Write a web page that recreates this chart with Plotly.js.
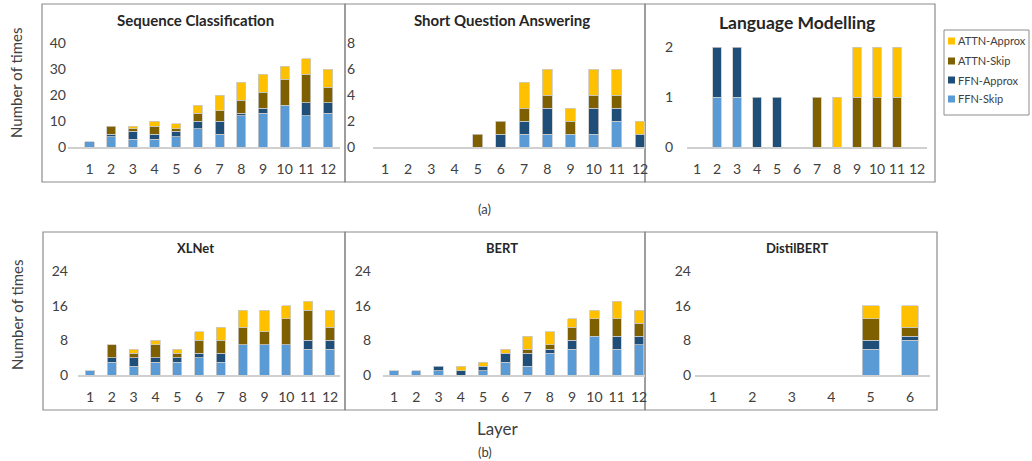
<!DOCTYPE html>
<html>
<head>
<meta charset="utf-8">
<script src="https://cdn.plot.ly/plotly-3.0.1.min.js"></script>
<style>html,body{margin:0;padding:0;background:#fff;}#chart{width:1032px;height:461px;}</style>
</head>
<body>
<div id="chart"></div>
<script>
// ---- Data ----
const layers12 = [1,2,3,4,5,6,7,8,9,10,11,12];
const layers6 = [1,2,3,4,5,6];
const seriesNames = ['FFN-Skip','FFN-Approx','ATTN-Skip','ATTN-Approx'];
const seriesColors = ['#5B9BD5','#1F4E79','#7F6000','#FFC000'];

// Sequence Classification
const seqFFNSkip    = [2,4,3,3,4,7,5,12,13,16,12,13];
const seqFFNApprox  = [0,1,3,2,2,3,5,1,2,0,5,4];
const seqATTNSkip   = [0,3,1,3,1,3,4,5,6,10,11,6];
const seqATTNApprox = [0,0,1,2,2,3,6,7,7,5,6,7];
// Short Question Answering
const sqaFFNSkip    = [0,0,0,0,0,0,1,1,1,1,2,0];
const sqaFFNApprox  = [0,0,0,0,0,1,1,2,0,2,1,1];
const sqaATTNSkip   = [0,0,0,0,1,1,1,1,1,1,1,0];
const sqaATTNApprox = [0,0,0,0,0,0,2,2,1,2,2,1];
// Language Modelling
const lmFFNSkip     = [0,1,1,0,0,0,0,0,0,0,0,0];
const lmFFNApprox   = [0,1,1,1,1,0,0,0,0,0,0,0];
const lmATTNSkip    = [0,0,0,0,0,0,1,0,1,1,1,0];
const lmATTNApprox  = [0,0,0,0,0,0,0,1,1,1,1,0];
// XLNet
const xlFFNSkip     = [1,3,2,3,3,4,3,7,7,7,6,6];
const xlFFNApprox   = [0,1,2,1,1,1,2,0,0,0,2,2];
const xlATTNSkip    = [0,3,1,3,1,3,3,4,3,6,7,3];
const xlATTNApprox  = [0,0,1,1,1,2,3,4,5,3,2,4];
// BERT
const bertFFNSkip    = [1,1,1,0,1,3,2,5,6,9,6,7];
const bertFFNApprox  = [0,0,1,1,1,2,3,1,2,0,3,2];
const bertATTNSkip   = [0,0,0,0,0,0,1,1,3,4,4,3];
const bertATTNApprox = [0,0,0,1,1,1,3,3,2,2,4,3];
// DistilBERT
const dbFFNSkip     = [0,0,0,0,6,8];
const dbFFNApprox   = [0,0,0,0,2,1];
const dbATTNSkip    = [0,0,0,0,5,2];
const dbATTNApprox  = [0,0,0,0,3,5];

const panelTitles = ['Sequence Classification','Short Question Answering','Language Modelling','XLNet','BERT','DistilBERT'];

// ---- Layout geometry (pixels) ----
const W = 1032, H = 461;
const panels = [
  {title: panelTitles[0], xs: layers12, data:[seqFFNSkip,seqFFNApprox,seqATTNSkip,seqATTNApprox],
   x0:68, x1:340, c1:89.5, cN:328, yZero:147, yTop:43, ymax:40, dtick:10, labelPos:66, tsize:15, tx:195, ty:20, bw:0.42},
  {title: panelTitles[1], xs: layers12, data:[sqaFFNSkip,sqaFFNApprox,sqaATTNSkip,sqaATTNApprox],
   x0:373, x1:645, c1:385, cN:640, yZero:147, yTop:43, ymax:8, dtick:2, labelPos:355, tsize:15, tx:502, ty:20, bw:0.43},
  {title: panelTitles[2], xs: layers12, data:[lmFFNSkip,lmFFNApprox,lmATTNSkip,lmATTNApprox],
   x0:687, x1:927, c1:697, cN:917, yZero:147, yTop:47, ymax:2, dtick:1, labelPos:673, tsize:17.5, tx:797, ty:22, bw:0.42},
  {title: panelTitles[3], xs: layers12, data:[xlFFNSkip,xlFFNApprox,xlATTNSkip,xlATTNApprox],
   x0:78, x1:340, c1:90, cN:330, yZero:375, yTop:271, ymax:24, dtick:8, labelPos:68, tsize:13, tx:195, ty:248, bw:0.42},
  {title: panelTitles[4], xs: layers12, data:[bertFFNSkip,bertFFNApprox,bertATTNSkip,bertATTNApprox],
   x0:383, x1:645, c1:394, cN:639, yZero:375, yTop:271, ymax:24, dtick:8, labelPos:371, tsize:13, tx:502, ty:248, bw:0.42},
  {title: panelTitles[5], xs: layers6, data:[dbFFNSkip,dbFFNApprox,dbATTNSkip,dbATTNApprox],
   x0:695, x1:930, c1:713, cN:910, yZero:375, yTop:271, ymax:24, dtick:8, labelPos:691, tsize:13, tx:797, ty:248, bw:0.43}
];
const boxes = [
  [42,4,345,182],[345,4,645,182],[645,4,935,182],
  [43,232,345,410],[345,232,645,410],[645,232,937,410]
];
// legend box geometry (pixels)
const legendBox = [944, 30, 1029, 115];
const legendRowY = [41, 61, 80, 99]; // top to bottom: ATTN-Approx, ATTN-Skip, FFN-Approx, FFN-Skip

const FONT = 'Lato, "Open Sans", sans-serif';
const traces = [];
const layout = {
  width: W, height: H,
  margin: {l:0, r:0, t:0, b:0},
  paper_bgcolor: '#ffffff', plot_bgcolor: 'rgba(0,0,0,0)',
  barmode: 'stack',
  font: {family: FONT, color: '#404040'},
  showlegend: false,
  shapes: [], annotations: []
};

panels.forEach((p, i) => {
  const n = i + 1;
  const xa = 'x' + (n === 1 ? '' : n), ya = 'y' + (n === 1 ? '' : n);
  const N = p.xs.length;
  const s = (p.cN - p.c1) / (N - 1);
  const lo = 1 - (p.c1 - p.x0) / s, hi = N + (p.x1 - p.cN) / s;
  p.data.forEach((arr, k) => {
    traces.push({
      type: 'bar', x: p.xs, y: arr.map(v => v === 0 ? null : v),
      name: seriesNames[k], legendgroup: seriesNames[k], showlegend: false,
      xaxis: xa, yaxis: ya, width: p.bw,
      marker: {color: seriesColors[k], line: {color: '#c9c9c9', width: 0.8}},
      hoverinfo: 'x+y+name'
    });
  });
  const xkey = 'xaxis' + (n === 1 ? '' : n), ykey = 'yaxis' + (n === 1 ? '' : n);
  layout[xkey] = {
    domain: [p.x0 / W, p.x1 / W], range: [lo, hi], anchor: ya,
    tickmode: 'array', tickvals: p.xs, ticktext: p.xs.map(String),
    showline: true, linecolor: '#d0d0d0', linewidth: 1.5, ticks: '',
    showgrid: false, zeroline: false, fixedrange: true, ticklabelstandoff: 9,
    tickfont: {size: 14, color: '#404040', family: FONT}
  };
  layout[ykey] = {
    domain: [1 - p.yZero / H, 1 - p.yTop / H], range: [0, p.ymax], anchor: 'free',
    position: p.labelPos / W, tickmode: 'linear', tick0: 0, dtick: p.dtick,
    showline: false, showgrid: false, zeroline: false, ticks: '', fixedrange: true,
    tickfont: {size: 14, color: '#404040', family: FONT}
  };
  layout.annotations.push({
    text: '<b>' + p.title + '</b>', xref: 'paper', yref: 'paper', x: p.tx / W, y: 1 - p.ty / H,
    xanchor: 'center', yanchor: 'middle', showarrow: false,
    font: {size: p.tsize, color: '#262626', family: FONT}
  });
});

boxes.forEach(b => {
  layout.shapes.push({type: 'rect', xref: 'paper', yref: 'paper',
    x0: b[0] / W, x1: b[2] / W, y0: 1 - b[3] / H, y1: 1 - b[1] / H,
    line: {color: '#8c8c8c', width: 1.2}, fillcolor: 'rgba(0,0,0,0)', layer: 'below'});
});

// legend (drawn as a framed key)
layout.shapes.push({type: 'rect', xref: 'paper', yref: 'paper',
  x0: legendBox[0] / W, x1: legendBox[2] / W, y0: 1 - legendBox[3] / H, y1: 1 - legendBox[1] / H,
  line: {color: '#8c8c8c', width: 1}, fillcolor: '#ffffff'});
const legendOrder = [3, 2, 1, 0];
legendOrder.forEach((k, r) => {
  const cy = legendRowY[r];
  layout.shapes.push({type: 'rect', xref: 'paper', yref: 'paper',
    x0: 948 / W, x1: 955 / W, y0: 1 - (cy + 3.5) / H, y1: 1 - (cy - 3.5) / H,
    line: {width: 0}, fillcolor: seriesColors[k]});
  layout.annotations.push({text: seriesNames[k], xref: 'paper', yref: 'paper',
    x: 956 / W, y: 1 - cy / H, xanchor: 'left', yanchor: 'middle', showarrow: false,
    font: {size: 11, color: '#404040', family: FONT}});
});

const textAnn = (t, x, y, size, angle) => ({
  text: t, xref: 'paper', yref: 'paper', x: x / W, y: 1 - y / H, xanchor: 'center', yanchor: 'middle',
  showarrow: false, textangle: angle || 0, font: {size: size, color: '#404040', family: FONT}
});
layout.annotations.push(textAnn('Number of times', 16, 83, 15, -90));
layout.annotations.push(textAnn('Number of times', 17, 315, 15, -90));
layout.annotations.push(textAnn('(a)', 484, 209, 13));
layout.annotations.push(textAnn('Layer', 497, 428, 17));
layout.annotations.push(textAnn('(b)', 485, 452, 13));

Plotly.newPlot('chart', traces, layout, {displayModeBar: false, staticPlot: true});
</script>
</body>
</html>
